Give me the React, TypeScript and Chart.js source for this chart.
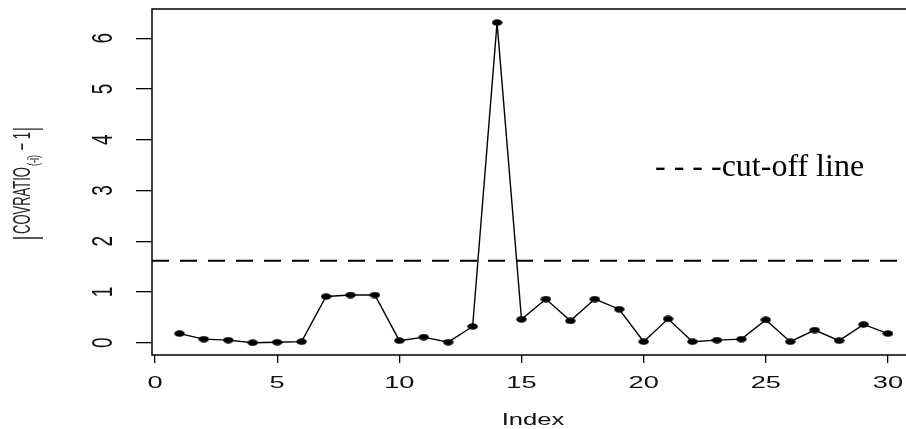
import React, { useEffect, useRef } from "react";
import { Chart, registerables } from "chart.js";

Chart.register(...registerables);

// ---- data ----
const indices = [1, 2, 3, 4, 5, 6, 7, 8, 9, 10, 11, 12, 13, 14, 15, 16, 17, 18, 19, 20, 21, 22, 23, 24, 25, 26, 27, 28, 29, 30];
const covratioAbs = [0.18, 0.07, 0.05, 0.0, 0.01, 0.02, 0.91, 0.94, 0.94, 0.04, 0.11, 0.01, 0.32, 6.31, 0.46, 0.86, 0.43, 0.86, 0.66, 0.02, 0.47, 0.02, 0.05, 0.07, 0.45, 0.02, 0.25, 0.04, 0.36, 0.18];
const cutoffValue = 1.616;
const xTickLabels = ["0", "5", "10", "15", "20", "25", "30"];
const yTickLabels = ["0", "1", "2", "3", "4", "5", "6"];
const xTitle = "Index";
const legendText = "- - - -cut-off line";

const X_MIN = -0.123;
const X_MAX = 30.737;
const Y_MIN = -0.2425;
const Y_MAX = 6.578;

const SANS = '"Liberation Sans", Arial, sans-serif';
const SERIF = '"Liberation Serif", "Times New Roman", serif';

function makeDot(): HTMLCanvasElement {
  const c = document.createElement("canvas");
  c.width = 11;
  c.height = 7;
  const g = c.getContext("2d")!;
  g.fillStyle = "#000";
  g.beginPath();
  g.ellipse(5.5, 3.5, 5.2, 3.3, 0, 0, Math.PI * 2);
  g.fill();
  return c;
}

const decor = {
  id: "decor",
  afterDraw(chart: any) {
    const ctx: CanvasRenderingContext2D = chart.ctx;
    const a = chart.chartArea;
    const xs = chart.scales.x;
    const ys = chart.scales.y;
    ctx.save();
    // box (left, top, bottom)
    ctx.strokeStyle = "#000";
    ctx.lineWidth = 1.5;
    ctx.beginPath();
    ctx.moveTo(a.right + 2, a.top);
    ctx.lineTo(a.left, a.top);
    ctx.lineTo(a.left, a.bottom);
    ctx.lineTo(a.right + 2, a.bottom);
    ctx.stroke();

    ctx.fillStyle = "#111";
    // x tick labels
    ctx.font = `16px ${SANS}`;
    ctx.textAlign = "center";
    ctx.textBaseline = "alphabetic";
    xs.ticks.forEach((t: any, i: number) => {
      const px = xs.getPixelForValue(t.value);
      const lbl = xTickLabels[i] ?? String(t.value);
      ctx.save();
      ctx.translate(px, 388);
      ctx.scale(1.7, 1);
      ctx.fillText(lbl, 0, 0);
      ctx.restore();
    });
    // y tick labels (rotated)
    ctx.font = `19px ${SANS}`;
    ys.ticks.forEach((t: any, i: number) => {
      const py = ys.getPixelForValue(t.value);
      const lbl = yTickLabels[i] ?? String(t.value);
      ctx.save();
      ctx.translate(112, py);
      ctx.scale(1.6, 1);
      ctx.rotate(-Math.PI / 2);
      ctx.fillText(lbl, 0, 0);
      ctx.restore();
    });
    // x title
    ctx.font = `16px ${SANS}`;
    ctx.save();
    ctx.translate(533, 425);
    ctx.scale(1.6, 1);
    ctx.fillText(xTitle, 0, 0);
    ctx.restore();

    // y title |COVRATIO_(-i) − 1|
    ctx.fillStyle = "#222";
    ctx.save();
    ctx.translate(30, 234);
    ctx.scale(1.85, 1);
    ctx.rotate(-Math.PI / 2);
    ctx.textAlign = "left";
    let u = 0;
    ctx.font = `13px ${SANS}`;
    ctx.fillText("COVRATIO", u, 0);
    u += ctx.measureText("COVRATIO").width + 1;
    ctx.font = `9px ${SANS}`;
    ctx.fillText("(-i)", u, 5);
    u += ctx.measureText("(-i)").width + 1;
    ctx.font = `13px ${SANS}`;
    ctx.fillText(" \u2212 1", u, 0);
    u += ctx.measureText(" \u2212 1").width;
    ctx.restore();
    // bars
    ctx.strokeStyle = "#222";
    ctx.lineWidth = 1.3;
    ctx.beginPath();
    ctx.moveTo(13, 238);
    ctx.lineTo(43, 238);
    ctx.moveTo(13, 234 - u - 3);
    ctx.lineTo(43, 234 - u - 3);
    ctx.stroke();

    // legend text
    ctx.fillStyle = "#000";
    ctx.font = `32px ${SERIF}`;
    ctx.textAlign = "left";
    ctx.fillText(legendText, 655, 176);
    ctx.restore();
  },
};

export default function App() {
  const ref = useRef<HTMLCanvasElement>(null);
  useEffect(() => {
    document.body.style.margin = "0";
    const dot = makeDot();
    const chart = new Chart(ref.current!, {
      type: "scatter",
      data: {
        datasets: [
          {
            data: indices.map((x, i) => ({ x, y: covratioAbs[i] })),
            showLine: true,
            borderColor: "#000",
            borderWidth: 1.4,
            backgroundColor: "#000",
            pointStyle: dot as any,
            pointRadius: 5,
          },
          {
            data: [
              { x: X_MIN, y: cutoffValue },
              { x: X_MAX, y: cutoffValue },
            ],
            showLine: true,
            borderColor: "#000",
            borderWidth: 2,
            borderDash: [17, 11],
            pointRadius: 0,
          },
        ],
      },
      options: {
        responsive: false,
        animation: false,
        devicePixelRatio: 1,
        layout: { autoPadding: false, padding: { top: 9, left: 0, right: 0, bottom: 0 } },
        plugins: { legend: { display: false }, tooltip: { enabled: false } },
        scales: {
          x: {
            type: "linear",
            min: X_MIN,
            max: X_MAX,
            ticks: { stepSize: 5, includeBounds: false, display: false },
            grid: { drawOnChartArea: false, drawTicks: true, tickLength: 8, color: "#000", lineWidth: 1.3 },
            border: { display: false },
            afterFit: (s: any) => {
              s.height = 74;
            },
          },
          y: {
            type: "linear",
            min: Y_MIN,
            max: Y_MAX,
            ticks: { stepSize: 1, includeBounds: false, display: false },
            grid: { drawOnChartArea: false, drawTicks: true, tickLength: 16, color: "#000", lineWidth: 1.3 },
            border: { display: false },
            afterFit: (s: any) => {
              s.width = 152;
            },
          },
        },
      },
      plugins: [decor],
    });
    return () => chart.destroy();
  }, []);
  return (
    <div style={{ width: 906, height: 429, background: "#fff" }}>
      <canvas ref={ref} width={906} height={429} style={{ display: "block" }} />
    </div>
  );
}
